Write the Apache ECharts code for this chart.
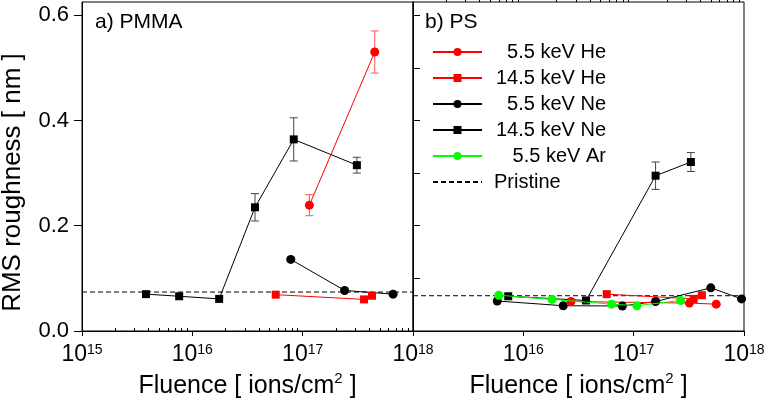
<!DOCTYPE html>
<html><head><meta charset="utf-8">
<script src="https://cdn.jsdelivr.net/npm/echarts@6/dist/echarts.min.js"></script>
<style>html,body{margin:0;padding:0;background:#fff}#c{width:765px;height:402px}</style>
</head><body><div id="c"></div>
<script>
const FONT = '"Liberation Sans", Arial, Helvetica, sans-serif';

// ---------- panel a) PMMA ----------
const pmma_he55_x = [1.15e17, 4.5e17];
const pmma_he55_y = [0.239, 0.530];
const pmma_he55_err = [0.020, 0.040];

const pmma_he145_x = [5.7e16, 3.6e17, 4.25e17];
const pmma_he145_y = [0.069, 0.060, 0.067];

const pmma_ne55_x = [7.8e16, 2.4e17, 6.6e17];
const pmma_ne55_y = [0.136, 0.077, 0.070];

const pmma_ne145_x = [3.8e15, 7.6e15, 1.75e16, 3.7e16, 8.3e16, 3.1e17];
const pmma_ne145_y = [0.070, 0.066, 0.061, 0.235, 0.364, 0.315];
const pmma_ne145_err = [0, 0, 0, 0.026, 0.041, 0.015];

const pmma_pristine = 0.074;

// ---------- panel b) PS ----------
const ps_he55_x = [2.7e16, 3.2e17, 5.6e17];
const ps_he55_y = [0.056, 0.053, 0.051];

const ps_he145_x = [5.7e16, 3.5e17, 4.15e17];
const ps_he145_y = [0.070, 0.061, 0.068];

const ps_ne55_x = [5.8e15, 2.3e16, 7.9e16, 1.58e17, 5.0e17, 9.5e17];
const ps_ne55_y = [0.057, 0.048, 0.0475, 0.056, 0.082, 0.061];

const ps_ne145_x = [7.3e15, 3.7e16, 1.58e17, 3.3e17];
const ps_ne145_y = [0.066, 0.058, 0.295, 0.321];
const ps_ne145_err = [0, 0, 0.026, 0.018];

const ps_ar55_x = [6.0e15, 1.82e16, 6.3e16, 1.07e17, 2.66e17];
const ps_ar55_y = [0.068, 0.060, 0.051, 0.048, 0.058];

const ps_pristine = 0.067;

// ---------- axes ----------
const xRange = [1e15, 1e18];
const yRange = [0, 0.625];
const yMajorTicks = [0, 0.2, 0.4, 0.6];
const yMinorTicks = [0.1, 0.3, 0.5];
const yRightTicks = [0.1, 0.2, 0.3, 0.4, 0.5, 0.6];
const xMinorMult = [2, 3, 4, 5, 6, 7, 8, 9];
const xDecades = [15, 16, 17];

const legendNames = ['5.5 keV He', '14.5 keV He', '5.5 keV Ne', '14.5 keV Ne', '5.5 keV Ar', 'Pristine'];
const RED = '#ff0000', BLACK = '#000000', GREEN = '#00ff00';

// minor tick positions on a log10 helper axis
const xMinorLog = [];
xDecades.forEach(d => xMinorMult.forEach(m => xMinorLog.push(Math.log10(m * Math.pow(10, d)))));

const pts = (xs, ys) => xs.map((x, i) => [x, ys[i]]);
const errPts = (xs, ys, es) => xs.map((x, i) => [x, ys[i], es[i]]).filter(d => d[2] > 0);

function lineSeries(name, xs, ys, color, symbol, panel, z) {
  return {
    name, type: 'line', xAxisIndex: panel ? 2 : 0, yAxisIndex: panel ? 2 : 0,
    data: pts(xs, ys), symbol, symbolSize: symbol === 'circle' ? 9 : 8,
    showSymbol: true, clip: false, animation: false, z: z || 3,
    lineStyle: { color, width: 1 }, itemStyle: { color, borderWidth: 0 },
    emphasis: { disabled: true }
  };
}
function pristineSeries(val, panel) {
  return {
    name: 'Pristine', type: 'line', xAxisIndex: panel ? 2 : 0, yAxisIndex: panel ? 2 : 0,
    data: [[xRange[0], val], [xRange[1], val]], symbol: 'none', animation: false, z: 2,
    lineStyle: { color: BLACK, width: 1, type: [5, 3] }, itemStyle: { color: BLACK },
    emphasis: { disabled: true }
  };
}
function errSeries(xs, ys, es, color, panel) {
  return {
    type: 'custom', xAxisIndex: panel ? 2 : 0, yAxisIndex: panel ? 2 : 0,
    data: errPts(xs, ys, es), animation: false, z: 2, clip: false,
    renderItem: function (params, api) {
      const x = api.value(0), y = api.value(1), e = api.value(2);
      const t = api.coord([x, y + e]), b = api.coord([x, y - e]);
      const hw = 4;
      const st = { stroke: color, lineWidth: 1 };
      return { type: 'group', children: [
        { type: 'line', shape: { x1: t[0], y1: t[1], x2: b[0], y2: b[1] }, style: st },
        { type: 'line', shape: { x1: t[0] - hw, y1: t[1], x2: t[0] + hw, y2: t[1] }, style: st },
        { type: 'line', shape: { x1: b[0] - hw, y1: b[1], x2: b[0] + hw, y2: b[1] }, style: st }
      ]};
    }
  };
}

const axisLine = { show: true, lineStyle: { color: '#000', width: 1 } };
const supRich = {
  b: { fontSize: 23, fontFamily: FONT, color: '#000' },
  s: { fontSize: 14, fontFamily: FONT, color: '#000', verticalAlign: 'top' }
};
function mainX(gridIndex, showMin) {
  return {
    type: 'log', logBase: 10, gridIndex, min: xRange[0], max: xRange[1],
    axisLine, splitLine: { show: false },
    axisTick: { show: true, inside: false, length: 5, lineStyle: { color: '#000' } },
    axisLabel: {
      show: true, margin: 12, hideOverlap: false,
      formatter: v => (!showMin && v < 1.5e15) ? '' : '{b|10}{s|' + Math.round(Math.log10(v)) + '}',
      rich: supRich
    },
    name: 'Fluence [ ions/cm{s|2} ]', nameLocation: 'middle', nameGap: 38,
    nameTextStyle: { fontSize: 25, lineHeight: 30, fontFamily: FONT, color: '#000',
      rich: { s: { fontSize: 15, lineHeight: 15, fontFamily: FONT, color: '#000', verticalAlign: 'top' } } }
  };
}
function minorX(gridIndex) {
  return {
    type: 'value', gridIndex, min: 15, max: 18,
    axisLine: { show: false }, splitLine: { show: false }, axisLabel: { show: false },
    axisTick: { show: true, inside: false, length: 3, customValues: xMinorLog, lineStyle: { color: '#000' } }
  };
}

const option = {
  backgroundColor: '#fff',
  animation: false,
  textStyle: { fontFamily: FONT },
  grid: [
    { left: 82, top: 2, width: 331, height: 329, show: true, borderColor: '#000', borderWidth: 1, containLabel: false, outerBoundsMode: 'none' },
    { left: 413, top: 2, width: 331, height: 329, show: true, borderColor: '#000', borderWidth: 1, containLabel: false, outerBoundsMode: 'none' }
  ],
  title: [
    { text: 'a) PMMA', left: 95, top: 12, padding: 0, textStyle: { fontSize: 21, fontWeight: 'normal', color: '#000', fontFamily: FONT } },
    { text: 'b) PS', left: 425, top: 12, padding: 0, textStyle: { fontSize: 21, fontWeight: 'normal', color: '#000', fontFamily: FONT } }
  ],
  legend: {
    data: legendNames.map(n => n === 'Pristine' ? { name: n, itemStyle: { opacity: 0 } } : n),
    orient: 'vertical', left: 432, top: 42, padding: 0,
    itemWidth: 49, itemHeight: 10, itemGap: 6, selectedMode: false,
    formatter: n => n === 'Pristine' ? '{p|' + n + '}' : '{a|' + n + '}',
    textStyle: {
      fontFamily: FONT, fontSize: 20, color: '#000',
      rich: {
        a: { width: 119, align: 'right', fontSize: 20, lineHeight: 20, fontFamily: FONT, color: '#000' },
        p: { padding: [0, 0, 0, 7], fontSize: 20, lineHeight: 20, fontFamily: FONT, color: '#000' }
      }
    }
  },
  xAxis: [mainX(0, true), minorX(0), mainX(1, false), minorX(1)],
  yAxis: [
    {
      type: 'value', gridIndex: 0, min: yRange[0], max: yRange[1], interval: 0.2,
      axisLine, splitLine: { show: false },
      axisTick: { show: true, inside: false, length: 8, customValues: yMajorTicks, lineStyle: { color: '#000' } },
      axisLabel: { show: true, margin: 13, customValues: yMajorTicks, formatter: v => v.toFixed(1),
        fontSize: 22, fontFamily: FONT, color: '#000' },
      name: 'RMS roughness [ nm ]', nameLocation: 'middle', nameGap: 56,
      nameTextStyle: { fontSize: 26, fontFamily: FONT, color: '#000', padding: [0, 32, 0, 0] }
    },
    {
      type: 'value', gridIndex: 0, min: yRange[0], max: yRange[1],
      axisLine: { show: false }, splitLine: { show: false }, axisLabel: { show: false },
      axisTick: { show: true, inside: false, length: 4, customValues: yMinorTicks, lineStyle: { color: '#000' } }
    },
    {
      type: 'value', gridIndex: 1, min: yRange[0], max: yRange[1],
      axisLine, splitLine: { show: false }, axisLabel: { show: false },
      axisTick: { show: true, inside: true, length: 7, customValues: yRightTicks, lineStyle: { color: '#000' } }
    }
  ],
  series: [
    pristineSeries(pmma_pristine, 0),
    pristineSeries(ps_pristine, 1),
    errSeries(pmma_ne145_x, pmma_ne145_y, pmma_ne145_err, '#444', 0),
    errSeries(pmma_he55_x, pmma_he55_y, pmma_he55_err, '#ff5050', 0),
    errSeries(ps_ne145_x, ps_ne145_y, ps_ne145_err, '#444', 1),
    lineSeries('14.5 keV Ne', pmma_ne145_x, pmma_ne145_y, BLACK, 'rect', 0),
    lineSeries('5.5 keV Ne', pmma_ne55_x, pmma_ne55_y, BLACK, 'circle', 0),
    lineSeries('14.5 keV He', pmma_he145_x, pmma_he145_y, RED, 'rect', 0),
    lineSeries('5.5 keV He', pmma_he55_x, pmma_he55_y, RED, 'circle', 0),
    lineSeries('14.5 keV Ne', ps_ne145_x, ps_ne145_y, BLACK, 'rect', 1),
    lineSeries('5.5 keV Ne', ps_ne55_x, ps_ne55_y, BLACK, 'circle', 1),
    lineSeries('14.5 keV He', ps_he145_x, ps_he145_y, RED, 'rect', 1),
    lineSeries('5.5 keV He', ps_he55_x, ps_he55_y, RED, 'circle', 1),
    lineSeries('5.5 keV Ar', ps_ar55_x, ps_ar55_y, GREEN, 'circle', 1, 4)
  ]
};
const chart = echarts.init(document.getElementById('c'));
chart.setOption(option);
</script></body></html>
